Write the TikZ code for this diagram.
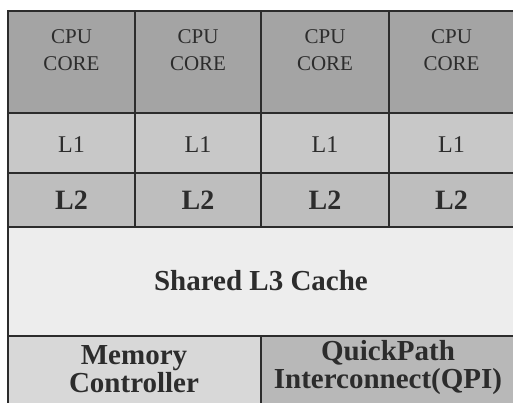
\documentclass[tikz,border=0pt]{standalone}
\usepackage{fontspec}
\setmainfont{Liberation Serif}
\definecolor{coregray}{HTML}{A4A4A4}
\definecolor{lonegray}{HTML}{C8C8C8}
\definecolor{ltwogray}{HTML}{BEBEBE}
\definecolor{lthreegray}{HTML}{EDEDED}
\definecolor{memgray}{HTML}{D8D8D8}
\definecolor{qpigray}{HTML}{B8B8B8}
\definecolor{inkgray}{HTML}{2C2C2C}
\tikzset{
  cell/.style={draw=inkgray, line width=1.6pt},
  lbl/.style={text=inkgray, align=center, inner sep=0pt},
  corelbl/.style={lbl, font=\fontsize{21}{27}\selectfont},
  lonelbl/.style={lbl, font=\fontsize{24}{28}\selectfont},
  ltwolbl/.style={lbl, font=\fontsize{28}{30}\selectfont\bfseries},
  biglbl/.style={lbl, font=\fontsize{29}{28}\selectfont\bfseries},
}
\begin{document}
\begin{tikzpicture}[x=1pt, y=-1pt]
  \useasboundingbox (0,0) rectangle (513,403);
  \fill[white] (0,0) rectangle (513,403);
  % cores, L1 and L2 per column
  \foreach \i/\xa/\xb in {1/8/135, 2/135/261, 3/261/389, 4/389/514} {
    \filldraw[cell, fill=coregray] (\xa,11) rectangle (\xb,113);
    \filldraw[cell, fill=lonegray] (\xa,113) rectangle (\xb,173);
    \filldraw[cell, fill=ltwogray] (\xa,173) rectangle (\xb,227);
    \node[corelbl] (core\i) at ({(\xa+\xb)/2},50) {CPU\\CORE};
    \node[lonelbl] (lone\i) at ({(\xa+\xb)/2},145) {L1};
    \node[ltwolbl] (ltwo\i) at ({(\xa+\xb)/2},200) {L2};
  }
  % shared cache
  \filldraw[cell, fill=lthreegray] (8,227) rectangle (514,336);
  \node[biglbl] (lthree) at (261,281) {Shared L3 Cache};
  % memory controller and QPI
  \filldraw[cell, fill=memgray] (8,336) rectangle (261,405);
  \filldraw[cell, fill=qpigray] (261,336) rectangle (514,405);
  \node[biglbl] (mem) at (134,369) {Memory\\Controller};
  \node[biglbl] (qpi) at (388,368) {QuickPath\\Interconnect(QPI)};
\end{tikzpicture}
\end{document}
